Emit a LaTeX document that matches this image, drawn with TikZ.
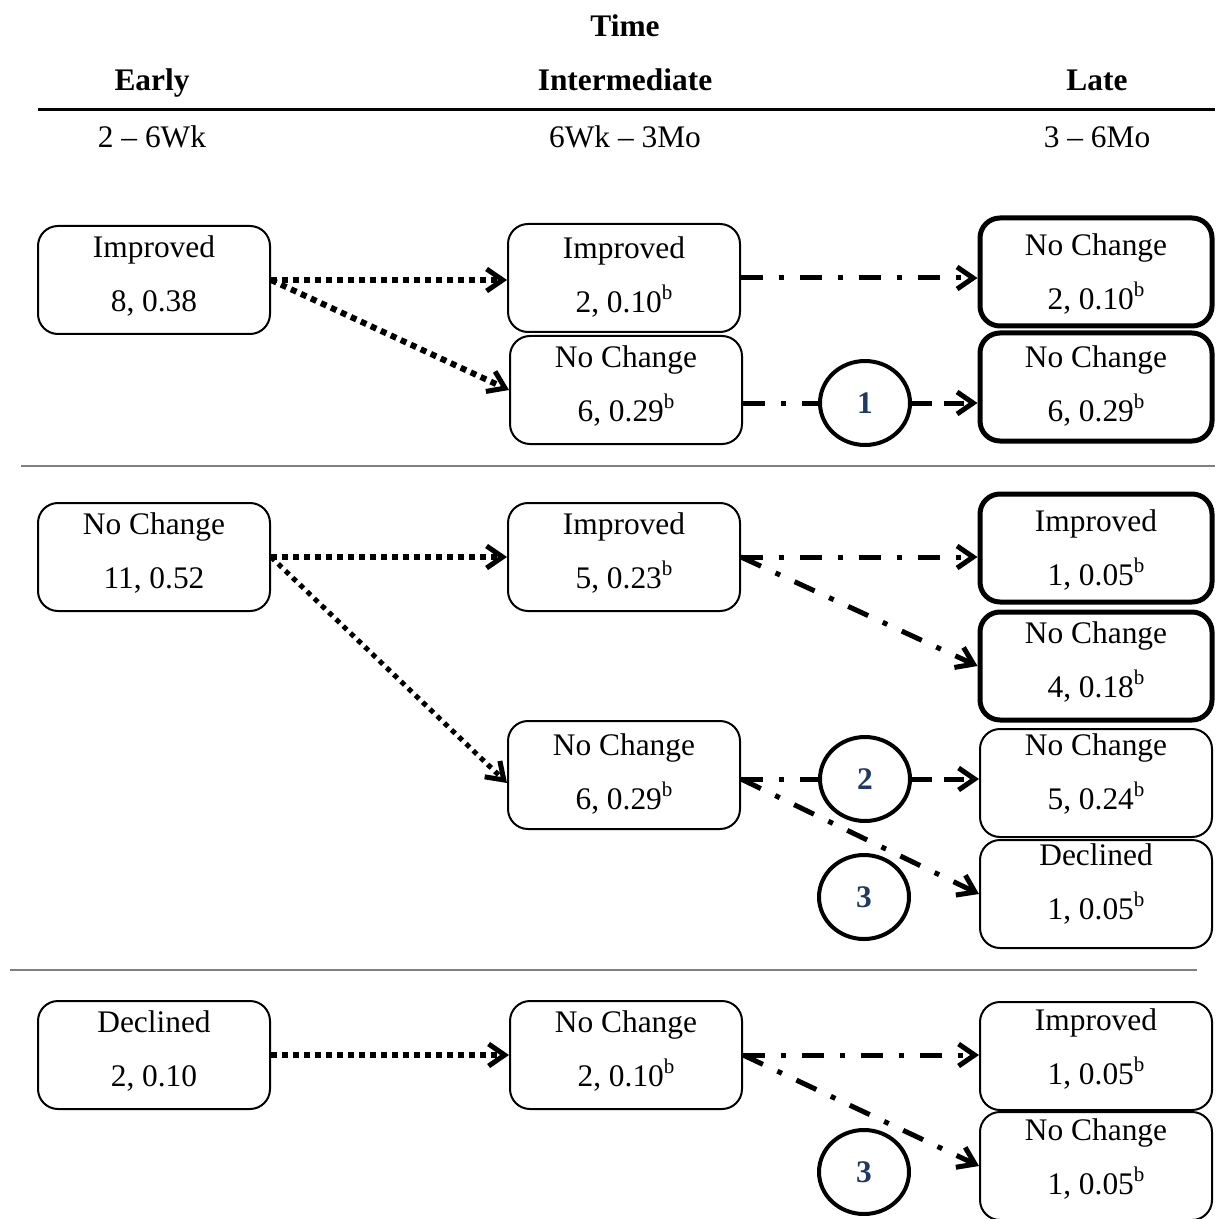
\documentclass[tikz,border=0pt]{standalone}
\usepackage{fontspec}
\setmainfont{Liberation Serif}
\usetikzlibrary{arrows.meta,shapes.geometric}
\definecolor{navy}{RGB}{31,56,100}
\definecolor{rulegray}{RGB}{128,128,128}
\newcommand{\supb}{\raisebox{0.42em}{\fontsize{10.5}{10}\selectfont b}}
\tikzset{
  statebox/.style={draw, rounded corners=10pt, line width=1pt, minimum width=116pt,
    minimum height=54pt, align=center, inner sep=0pt, text depth=#1,
    font=\fontsize{15.7}{27}\selectfont},
  statebox/.default=6pt,
  latebox/.style={statebox=#1, line width=2.5pt},
  latebox/.default=6pt,
  pathno/.style={draw, ellipse, line width=2pt, minimum width=45pt, minimum height=42pt,
    inner sep=0pt, text=navy, font=\fontsize{15.7}{18}\selectfont\bfseries},
  headtext/.style={anchor=base, font=\fontsize{15.7}{18}\selectfont\bfseries},
  spantext/.style={anchor=base, font=\fontsize{15.7}{18}\selectfont},
  dotline/.style={->, line width=3pt, dash pattern=on 3pt off 2.5pt},
  dotthin/.style={->, line width=2.5pt, dash pattern=on 2.5pt off 2.5pt},
  dashdotline/.style={->, line width=2.5pt, dash pattern=on 11pt off 8pt on 2.5pt off 8pt},
  dashdotplain/.style={line width=2.5pt, dash pattern=on 11pt off 8pt on 2.5pt off 8pt},
  dashline/.style={->, line width=2.5pt, dash pattern=on 10pt off 6pt},
  >={Straight Barb[length=8pt,width=11pt,line width=2.5pt]}
}
\begin{document}
\begin{tikzpicture}[x=0.5pt, y=-0.5pt]
  \useasboundingbox (0,0) rectangle (1215,1219);
  % header
  \node[headtext] (time) at (625,37) {Time};
  \node[headtext] (early) at (152,91) {Early};
  \node[headtext] (inter) at (625,91) {Intermediate};
  \node[headtext] (late) at (1097,91) {Late};
  \draw[line width=1.5pt] (38,110) -- (1215,110);
  \node[spantext] (sp1) at (152,148) {2 -- 6Wk};
  \node[spantext] (sp2) at (625,148) {6Wk -- 3Mo};
  \node[spantext] (sp3) at (1097,148) {3 -- 6Mo};
  \draw[rulegray, line width=1pt] (21,466) -- (1215,466);
  \draw[rulegray, line width=1pt] (10,970) -- (1197,970);

  % early
  \node[statebox] (e1) at (154,280) {Improved\\8, 0.38};
  \node[statebox] (e2) at (154,557) {No Change\\11, 0.52};
  \node[statebox] (e3) at (154,1055) {Declined\\2, 0.10};
  % intermediate
  \node[statebox=3pt] (m1a) at (624,278) {Improved\\2, 0.10\supb};
  \node[statebox] (m1b) at (626,390) {No Change\\6, 0.29\supb};
  \node[statebox] (m2a) at (624,557) {Improved\\5, 0.23\supb};
  \node[statebox=3.5pt] (m2b) at (624,775) {No Change\\6, 0.29\supb};
  \node[statebox] (m3) at (626,1055) {No Change\\2, 0.10\supb};
  % late
  \node[latebox=-2pt] (l1a) at (1096,272) {No Change\\2, 0.10\supb};
  \node[latebox=3pt] (l1b) at (1096,387) {No Change\\6, 0.29\supb};
  \node[latebox=-2pt] (l2a) at (1096,548) {Improved\\1, 0.05\supb};
  \node[latebox] (l2b) at (1096,666) {No Change\\4, 0.18\supb};
  \node[statebox=11pt] (l2c) at (1096,783) {No Change\\5, 0.24\supb};
  \node[statebox=12pt] (l2d) at (1096,894) {Declined\\1, 0.05\supb};
  \node[statebox=9pt] (l3a) at (1096,1056) {Improved\\1, 0.05\supb};
  \node[statebox=9pt] (l3b) at (1096,1166) {No Change\\1, 0.05\supb};

  % pathway numbers
  \node[pathno, fill=white] (c1) at (865,403) {1};
  \node[pathno, fill=white] (c2) at (865,779) {2};
  \node[pathno] (c3) at (864,897) {3};
  \node[pathno] (c4) at (864,1172) {3};

  % early to intermediate
  \draw[dotline] (e1.east) -- (e1.east -| m1a.west);
  \draw[dotline] (e1.east) -- (m1b.west);
  \draw[dotline] (e2.east) -- (e2.east -| m2a.west);
  \draw[dotthin] (e2.east) -- ([yshift=-4pt]m2b.west);
  \draw[dotline] (e3.east) -- (e3.east -| m3.west);

  % intermediate to late
  \draw[dashdotline] (m1a.east) -- (m1a.east -| l1a.west);
  \draw[dashdotplain] (m1b.east |- c1) -- (c1.west);
  \draw[dashline] (c1.east) -- (c1.east -| l1b.west);
  \draw[dashdotline] (m2a.east) -- (m2a.east -| l2a.west);
  \draw[dashdotline] (m2a.east) -- (l2b.west);
  \draw[dashdotplain] (m2b.east |- c2) -- (c2.west);
  \draw[dashline] (c2.east) -- (c2.east -| l2c.west);
  \draw[dashdotline] (m2b.east |- c2) -- (l2d.west);
  \draw[dashdotline] (m3.east) -- (m3.east -| l3a.west);
  \draw[dashdotline] (m3.east) -- (l3b.west);
\end{tikzpicture}
\end{document}
